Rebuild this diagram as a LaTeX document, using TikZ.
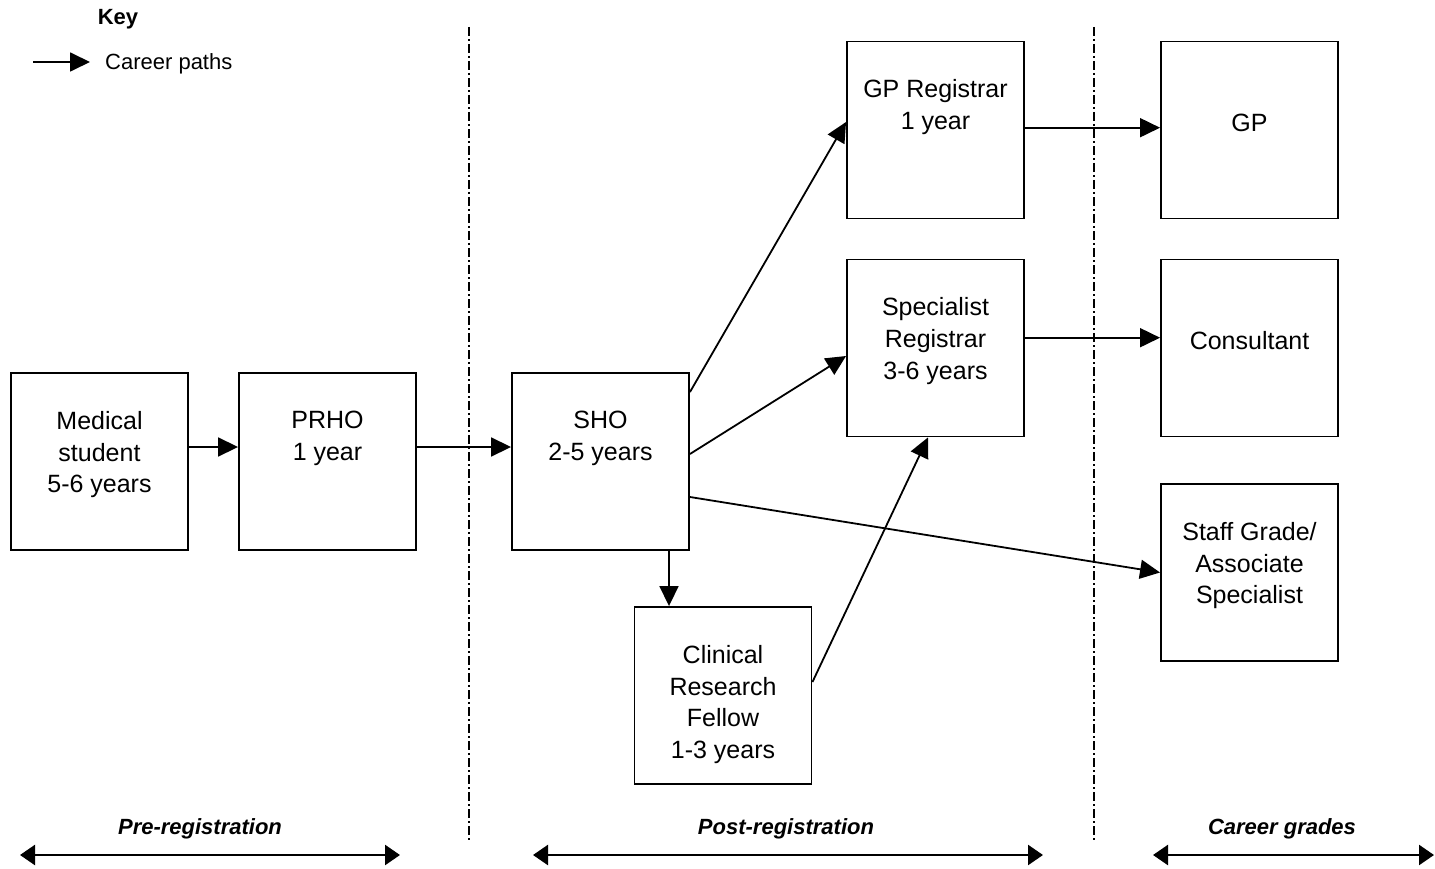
\documentclass[tikz,border=0pt]{standalone}
\usepackage{fontspec}
\setmainfont{Liberation Sans}
\usetikzlibrary{arrows.meta}
\begin{document}
\begin{tikzpicture}[x=1pt,y=-1pt,
  box/.style={draw, line width=1.9pt, minimum width=177pt, minimum height=177pt, inner sep=0pt},
  txt/.style={align=center, inner sep=0pt, anchor=north, font=\fontsize{25}{31.7}\selectfont, execute at begin node=\rule{0pt}{20pt}},
  arr/.style={line width=1.8pt, -{Triangle[length=20pt,width=19pt]}},
  dbl/.style={line width=2.4pt, {Triangle[length=15pt,width=20pt]}-{Triangle[length=15pt,width=20pt]}},
  divider/.style={line width=1.3pt, dash pattern=on 9pt off 3pt on 2pt off 3pt},
  phase/.style={inner sep=0pt, anchor=base, font=\fontsize{22}{26}\selectfont\bfseries\itshape},
]
\useasboundingbox (0,0) rectangle (1435,869);

% key
\node[inner sep=0pt, anchor=base, font=\fontsize{22}{26}\selectfont\bfseries] (key) at (118,25) {Key};
\node[inner sep=0pt, anchor=base west, font=\fontsize{22}{26}\selectfont] (keylbl) at (105,70) {Career paths};
\coordinate (k1) at (33,62);
\coordinate (k2) at (90,62);
\draw[arr] (k1) -- (k2);

% dividers
\coordinate (d1t) at (469,27);
\coordinate (d1b) at (469,840);
\coordinate (d2t) at (1094,27);
\coordinate (d2b) at (1094,840);
\draw[divider] (d1t) -- (d1b);
\draw[divider] (d2t) -- (d2b);

% boxes
\node[box] (med) at (99.5,461.5) {};
\node[box] (prho) at (327.5,461.5) {};
\node[box] (sho) at (600.5,461.5) {};
\node[box] (gpreg) at (935.5,130) {};
\node[box] (spec) at (935.5,348) {};
\node[box] (crf) at (723,695.5) {};
\node[box] (gp) at (1249.5,130) {};
\node[box] (cons) at (1249.5,348) {};
\node[box] (staff) at (1249.5,572.5) {};

% box texts
\node[txt] (medT) at ([yshift=-39pt]med.north) {Medical\\student\\5-6 years};
\node[txt] (prhoT) at ([yshift=-39pt]prho.north) {PRHO\\1 year};
\node[txt] (shoT) at ([yshift=-39pt]sho.north) {SHO\\2-5 years};
\node[txt] (gpregT) at ([yshift=-39pt]gpreg.north) {GP Registrar\\1 year};
\node[txt] (specT) at ([yshift=-39pt]spec.north) {Specialist\\Registrar\\3-6 years};
\node[txt] (crfT) at ([yshift=-39pt]crf.north) {Clinical\\Research\\Fellow\\1-3 years};
\node[txt] (gpT) at ([yshift=-71pt]gp.north) {GP};
\node[txt] (consT) at ([yshift=-71pt]cons.north) {Consultant};
\node[txt] (staffT) at ([yshift=-39pt]staff.north) {Staff Grade/\\Associate\\Specialist};

% connectors
\draw[arr] ([yshift=14.5pt]med.east) -- ([yshift=14.5pt]prho.west);
\draw[arr] ([yshift=14.5pt]prho.east) -- ([yshift=14.5pt]sho.west);
\draw[arr] ([yshift=-20pt]sho.north east) -- ([yshift=8pt]gpreg.west);
\draw[arr] ([yshift=7.5pt]sho.east) -- ([yshift=-8pt]spec.west);
\draw[arr] ([yshift=-35.5pt]sho.east) -- (staff.west);
\draw[arr] ([xshift=68.5pt]sho.south) -- ([xshift=68.5pt]sho.south |- crf.north);
\draw[arr] ([yshift=13.5pt]crf.east) -- ([xshift=-7.5pt]spec.south);
\draw[arr] ([yshift=2.3pt]gpreg.east) -- ([yshift=2.3pt]gp.west);
\draw[arr] ([yshift=10.3pt]spec.east) -- ([yshift=10.3pt]cons.west);

% phases
\node[phase] (pre) at (200,834) {Pre-registration};
\node[phase] (post) at (786,834) {Post-registration};
\node[phase] (career) at (1282,834) {Career grades};
\coordinate (a1) at (20,855);
\coordinate (a2) at (400,855);
\coordinate (b1) at (533,855);
\coordinate (b2) at (1043,855);
\coordinate (c1) at (1153,855);
\coordinate (c2) at (1434,855);
\draw[dbl] (a1) -- (a2);
\draw[dbl] (b1) -- (b2);
\draw[dbl] (c1) -- (c2);
\end{tikzpicture}
\end{document}
